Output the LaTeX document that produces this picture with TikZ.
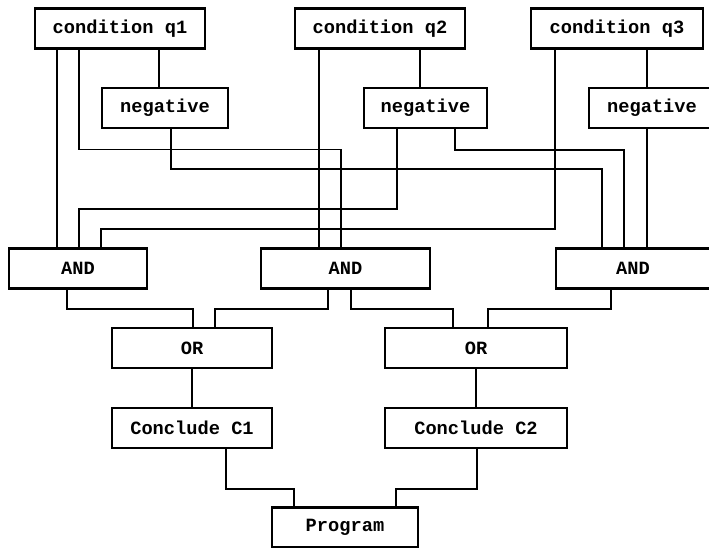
\documentclass[tikz,border=0pt]{standalone}
\usepackage{fontspec}
\usepackage{tikz}
\newfontfamily\codefont{Liberation Mono}

\begin{document}
\begin{tikzpicture}[x=1pt,y=-1pt,
  box/.style={draw,line width=2.2pt,inner sep=0pt,minimum height=40pt,
    font=\codefont\bfseries\fontsize{18.7}{20}\selectfont},
  wire/.style={line width=1.8pt}]
  \clip (0,0) rectangle (709,548);

  % Conditions and negations
  \node[box,minimum width=170pt] (q1) at (120,28.5) {condition q1};
  \node[box,minimum width=170pt] (q2) at (380,28.5) {condition q2};
  \node[box,minimum width=172pt] (q3) at (617,28.5) {condition q3};
  \node[box,minimum width=126pt] (neg1) at (165,108) {negative};
  \node[box,minimum width=123pt] (neg2) at (425.5,108) {negative};
  \node[box,minimum width=126pt] (neg3) at (652,108) {negative};

  % Gates
  \node[box,minimum width=138pt] (and1) at (78,268.5) {AND};
  \node[box,minimum width=169pt] (and2) at (345.5,268.5) {AND};
  \node[box,minimum width=154pt] (and3) at (633,268.5) {AND};
  \node[box,minimum width=160pt] (or1) at (192,348) {OR};
  \node[box,minimum width=182pt] (or2) at (476,348) {OR};

  % Conclusions
  \node[box,minimum width=160pt] (c1) at (192,428) {Conclude C1};
  \node[box,minimum width=182pt] (c2) at (476,428) {Conclude C2};
  \node[box,minimum width=146pt] (prog) at (345,527.5) {Program};

  % Wires into negations
  \draw[wire] ([xshift=39pt]q1.south) -- ([xshift=-6pt]neg1.north);
  \draw[wire] ([xshift=40pt]q2.south) -- ([xshift=-5.5pt]neg2.north);
  \draw[wire] ([xshift=30pt]q3.south) -- ([xshift=-5pt]neg3.north);

  % Wires into AND gates
  \draw[wire] ([xshift=-63pt]q1.south) -- ([xshift=-21pt]and1.north);
  \draw[wire] ([xshift=-41pt]q1.south) -- ++(0,100) -| ([xshift=-4.5pt]and2.north);
  \draw[wire] ([xshift=6pt]neg1.south) -- ++(0,40) -| ([xshift=-31pt]and3.north);
  \draw[wire] ([xshift=-61pt]q2.south) -- ([xshift=-26.5pt]and2.north);
  \draw[wire] ([xshift=-28.5pt]neg2.south) -- ++(0,80) -| ([xshift=1pt]and1.north);
  \draw[wire] ([xshift=29.5pt]neg2.south) -- ++(0,21) -| ([xshift=-9pt]and3.north);
  \draw[wire] ([xshift=-62pt]q3.south) -- ++(0,179) -| ([xshift=23pt]and1.north);
  \draw[wire] ([xshift=-5pt]neg3.south) -- ([xshift=14pt]and3.north);

  % Wires into OR gates
  \draw[wire] ([xshift=-11pt]and1.south) -- ++(0,19) -| ([xshift=1pt]or1.north);
  \draw[wire] ([xshift=-17.5pt]and2.south) -- ++(0,19) -| ([xshift=23pt]or1.north);
  \draw[wire] ([xshift=5.5pt]and2.south) -- ++(0,19) -| ([xshift=-23pt]or2.north);
  \draw[wire] ([xshift=-22pt]and3.south) -- ++(0,19) -| ([xshift=12pt]or2.north);

  % Conclusions and program
  \draw[wire] (or1.south) -- (c1.north);
  \draw[wire] (or2.south) -- (c2.north);
  \draw[wire] ([xshift=34pt]c1.south) -- ++(0,40) -| ([xshift=-51pt]prog.north);
  \draw[wire] ([xshift=1pt]c2.south) -- ++(0,40) -| ([xshift=51pt]prog.north);
\end{tikzpicture}
\end{document}
